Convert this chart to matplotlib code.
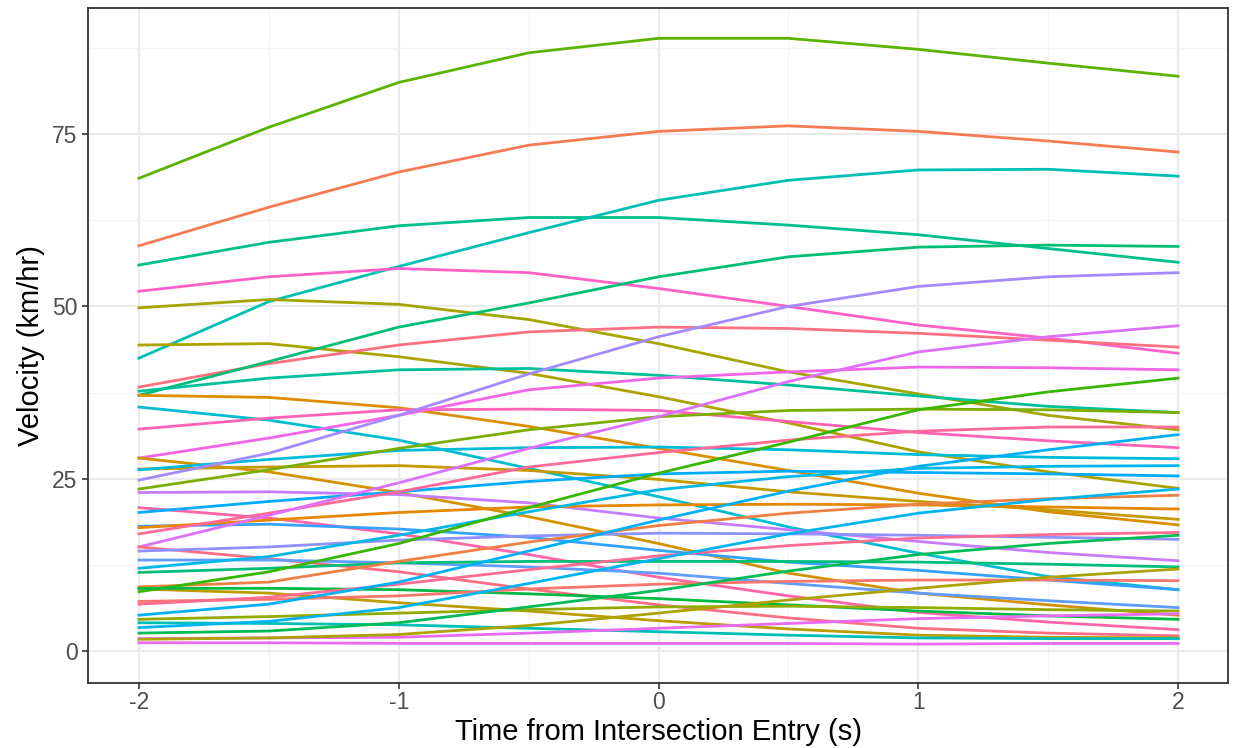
import matplotlib.pyplot as plt

# time points (s) at which each vehicle's speed was read
time_s = [-2, -1.5, -1, -0.5, 0, 0.5, 1, 1.5, 2]

# velocity traces (km/hr), one per vehicle
veh01 = [68.6, 76.0, 82.5, 86.8, 88.9, 88.9, 87.3, 85.3, 83.4]
veh02 = [58.8, 64.4, 69.5, 73.4, 75.4, 76.2, 75.4, 74.0, 72.4]
veh03 = [56.0, 59.3, 61.7, 62.9, 62.9, 61.8, 60.4, 58.4, 56.4]
veh04 = [42.5, 50.7, 55.8, 60.7, 65.4, 68.3, 69.8, 69.9, 68.9]
veh05 = [52.2, 54.3, 55.5, 54.9, 52.6, 50.0, 47.3, 45.4, 43.2]
veh06 = [49.8, 51.0, 50.3, 48.1, 44.6, 40.5, 37.3, 34.2, 32.1]
veh07 = [44.4, 44.6, 42.7, 40.3, 36.9, 33.1, 28.9, 26.0, 23.6]
veh08 = [38.3, 41.7, 44.4, 46.3, 47.0, 46.8, 46.1, 45.1, 44.1]
veh09 = [37.1, 42.0, 47.0, 50.5, 54.3, 57.2, 58.6, 58.9, 58.7]
veh10 = [37.7, 39.6, 40.8, 41.0, 40.0, 38.6, 37.0, 35.5, 34.6]
veh11 = [37.1, 36.8, 35.3, 32.6, 29.4, 26.2, 22.9, 20.2, 18.3]
veh12 = [35.4, 33.5, 30.6, 26.5, 22.4, 18.0, 14.2, 10.8, 8.9]
veh13 = [32.2, 33.8, 35.0, 35.1, 34.9, 33.3, 31.7, 30.5, 29.5]
veh14 = [28.0, 30.9, 34.2, 37.9, 39.6, 40.5, 41.2, 41.1, 40.8]
veh15 = [28.0, 26.0, 23.0, 19.5, 15.6, 11.3, 8.4, 6.7, 5.2]
veh16 = [26.4, 26.7, 26.9, 26.2, 24.9, 23.1, 21.7, 20.5, 19.1]
veh17 = [26.3, 27.8, 29.1, 29.5, 29.6, 29.2, 28.5, 28.1, 27.9]
veh18 = [24.8, 28.7, 34.2, 40.2, 45.6, 50.0, 52.9, 54.3, 54.9]
veh19 = [23.5, 26.3, 29.4, 32.1, 34.0, 34.9, 35.1, 35.0, 34.6]
veh20 = [23.0, 23.1, 22.7, 21.5, 19.3, 17.6, 15.9, 14.3, 13.1]
veh21 = [20.8, 19.3, 17.0, 14.0, 10.7, 8.0, 5.6, 4.2, 3.1]
veh22 = [20.1, 21.7, 23.1, 24.6, 25.7, 26.1, 25.9, 25.7, 25.4]
veh23 = [18.1, 18.4, 17.7, 16.5, 14.6, 12.9, 11.7, 10.3, 8.9]
veh24 = [17.9, 19.0, 20.1, 20.9, 21.2, 21.3, 21.2, 20.9, 20.6]
veh25 = [17.0, 20.0, 23.1, 26.7, 28.8, 30.6, 31.9, 32.5, 32.5]
veh26 = [15.1, 19.7, 24.4, 29.4, 34.0, 39.1, 43.4, 45.6, 47.2]
veh27 = [15.1, 13.4, 11.5, 9.0, 6.7, 4.8, 3.3, 2.6, 2.2]
veh28 = [14.5, 15.1, 16.1, 16.7, 17.1, 17.0, 16.8, 16.5, 16.2]
veh29 = [13.2, 13.2, 12.8, 12.2, 11.3, 9.8, 8.4, 7.3, 6.3]
veh30 = [12.0, 13.7, 16.8, 20.2, 23.4, 25.3, 26.5, 26.8, 26.9]
veh31 = [11.4, 12.0, 12.8, 13.0, 13.0, 13.0, 12.9, 12.6, 12.2]
veh32 = [9.3, 10.0, 13.0, 15.8, 18.2, 20.0, 21.3, 22.1, 22.6]
veh33 = [9.0, 8.4, 7.0, 5.8, 4.4, 3.2, 2.3, 2.0, 1.9]
veh34 = [8.6, 11.5, 15.6, 20.8, 25.8, 30.3, 35.0, 37.6, 39.6]
veh35 = [9.1, 9.1, 8.9, 8.3, 7.6, 6.7, 5.8, 5.1, 4.6]
veh36 = [7.2, 7.5, 8.0, 9.0, 9.7, 10.1, 10.3, 10.3, 10.2]
veh37 = [6.8, 7.8, 9.7, 11.8, 13.8, 15.3, 16.4, 16.9, 17.2]
veh38 = [5.2, 6.8, 10.0, 14.5, 19.0, 23.2, 26.8, 29.2, 31.4]
veh39 = [4.6, 5.0, 5.5, 6.0, 6.4, 6.5, 6.3, 6.0, 5.8]
veh40 = [4.1, 4.0, 3.8, 3.3, 2.8, 2.3, 1.9, 1.8, 1.8]
veh41 = [3.4, 4.3, 6.3, 9.8, 13.4, 17.0, 20.0, 22.0, 23.5]
veh42 = [2.6, 2.9, 4.1, 6.4, 8.8, 11.6, 14.0, 15.6, 16.8]
veh43 = [1.8, 1.9, 2.0, 2.6, 3.3, 4.0, 4.7, 5.1, 5.4]
veh44 = [1.7, 1.9, 2.4, 3.7, 5.5, 7.4, 9.1, 10.7, 11.9]
veh45 = [1.2, 1.2, 1.1, 1.1, 1.1, 1.1, 1.0, 1.1, 1.1]

vehicles = [veh01, veh02, veh03, veh04, veh05, veh06, veh07, veh08, veh09,
            veh10, veh11, veh12, veh13, veh14, veh15, veh16, veh17, veh18,
            veh19, veh20, veh21, veh22, veh23, veh24, veh25, veh26, veh27,
            veh28, veh29, veh30, veh31, veh32, veh33, veh34, veh35, veh36,
            veh37, veh38, veh39, veh40, veh41, veh42, veh43, veh44, veh45]

line_colors = ["#5BB300", "#F47C55", "#00BF8C", "#00C0B4", "#FF61C9",
               "#A3A500", "#ABA300", "#FC717F", "#00BF74", "#00C09B",
               "#DB8E00", "#00BDD2", "#FF63B6", "#F265E7", "#D39200",
               "#C49A00", "#00BBDA", "#A58AFF", "#7CAE00", "#C77CFF",
               "#FF66A8", "#00ABFD", "#35A2FF", "#E58700", "#FF6A98",
               "#DC71FA", "#FD6F86", "#8F91FF", "#619CFF", "#00B8E7",
               "#00BE7A", "#EE8043", "#BB9D00", "#39B600", "#00BA44",
               "#F8766D", "#FF6C91", "#00B0F6", "#93AA00", "#00BFB8",
               "#00B4EF", "#00BC56", "#E76BF3", "#ADA200", "#EA6AF1"]

plt.rcParams['font.family'] = ['Liberation Sans', 'DejaVu Sans']

fig = plt.figure(figsize=(12.35, 7.48), dpi=100)
ax = fig.add_axes([0.0713, 0.0869, 0.9230, 0.9024])

for v, c in zip(vehicles, line_colors):
    ax.plot(time_s, v, color=c, lw=2.0, solid_joinstyle='round')

ax.set_xlim(-2.196, 2.192)
ax.set_ylim(-4.64, 93.3)
ax.set_xticks([-2, -1, 0, 1, 2])
ax.set_xticklabels(['-2', '-1', '0', '1', '2'])
ax.set_yticks([0, 25, 50, 75])
ax.set_xticks([-1.5, -0.5, 0.5, 1.5], minor=True)
ax.set_yticks([12.5, 37.5, 62.5, 87.5], minor=True)

ax.grid(which='major', color='#EBEBEB', lw=1.6)
ax.grid(which='minor', color='#F4F4F4', lw=0.9)
ax.set_axisbelow(True)
for s in ax.spines.values():
    s.set_color('#333333')
    s.set_linewidth(1.3)

ax.tick_params(which='major', length=4.5, width=1.2, color='#333333',
               labelsize=16.5, labelcolor='#4D4D4D')
ax.tick_params(axis='x', which='major', pad=1)
ax.tick_params(axis='y', which='major', pad=3)
ax.tick_params(which='minor', length=0)

ax.set_xlabel('Time from Intersection Entry (s)', fontsize=21, labelpad=3)
ax.set_ylabel('Velocity (km/hr)', fontsize=21, labelpad=5)

fig.savefig('out.png', dpi=100)
